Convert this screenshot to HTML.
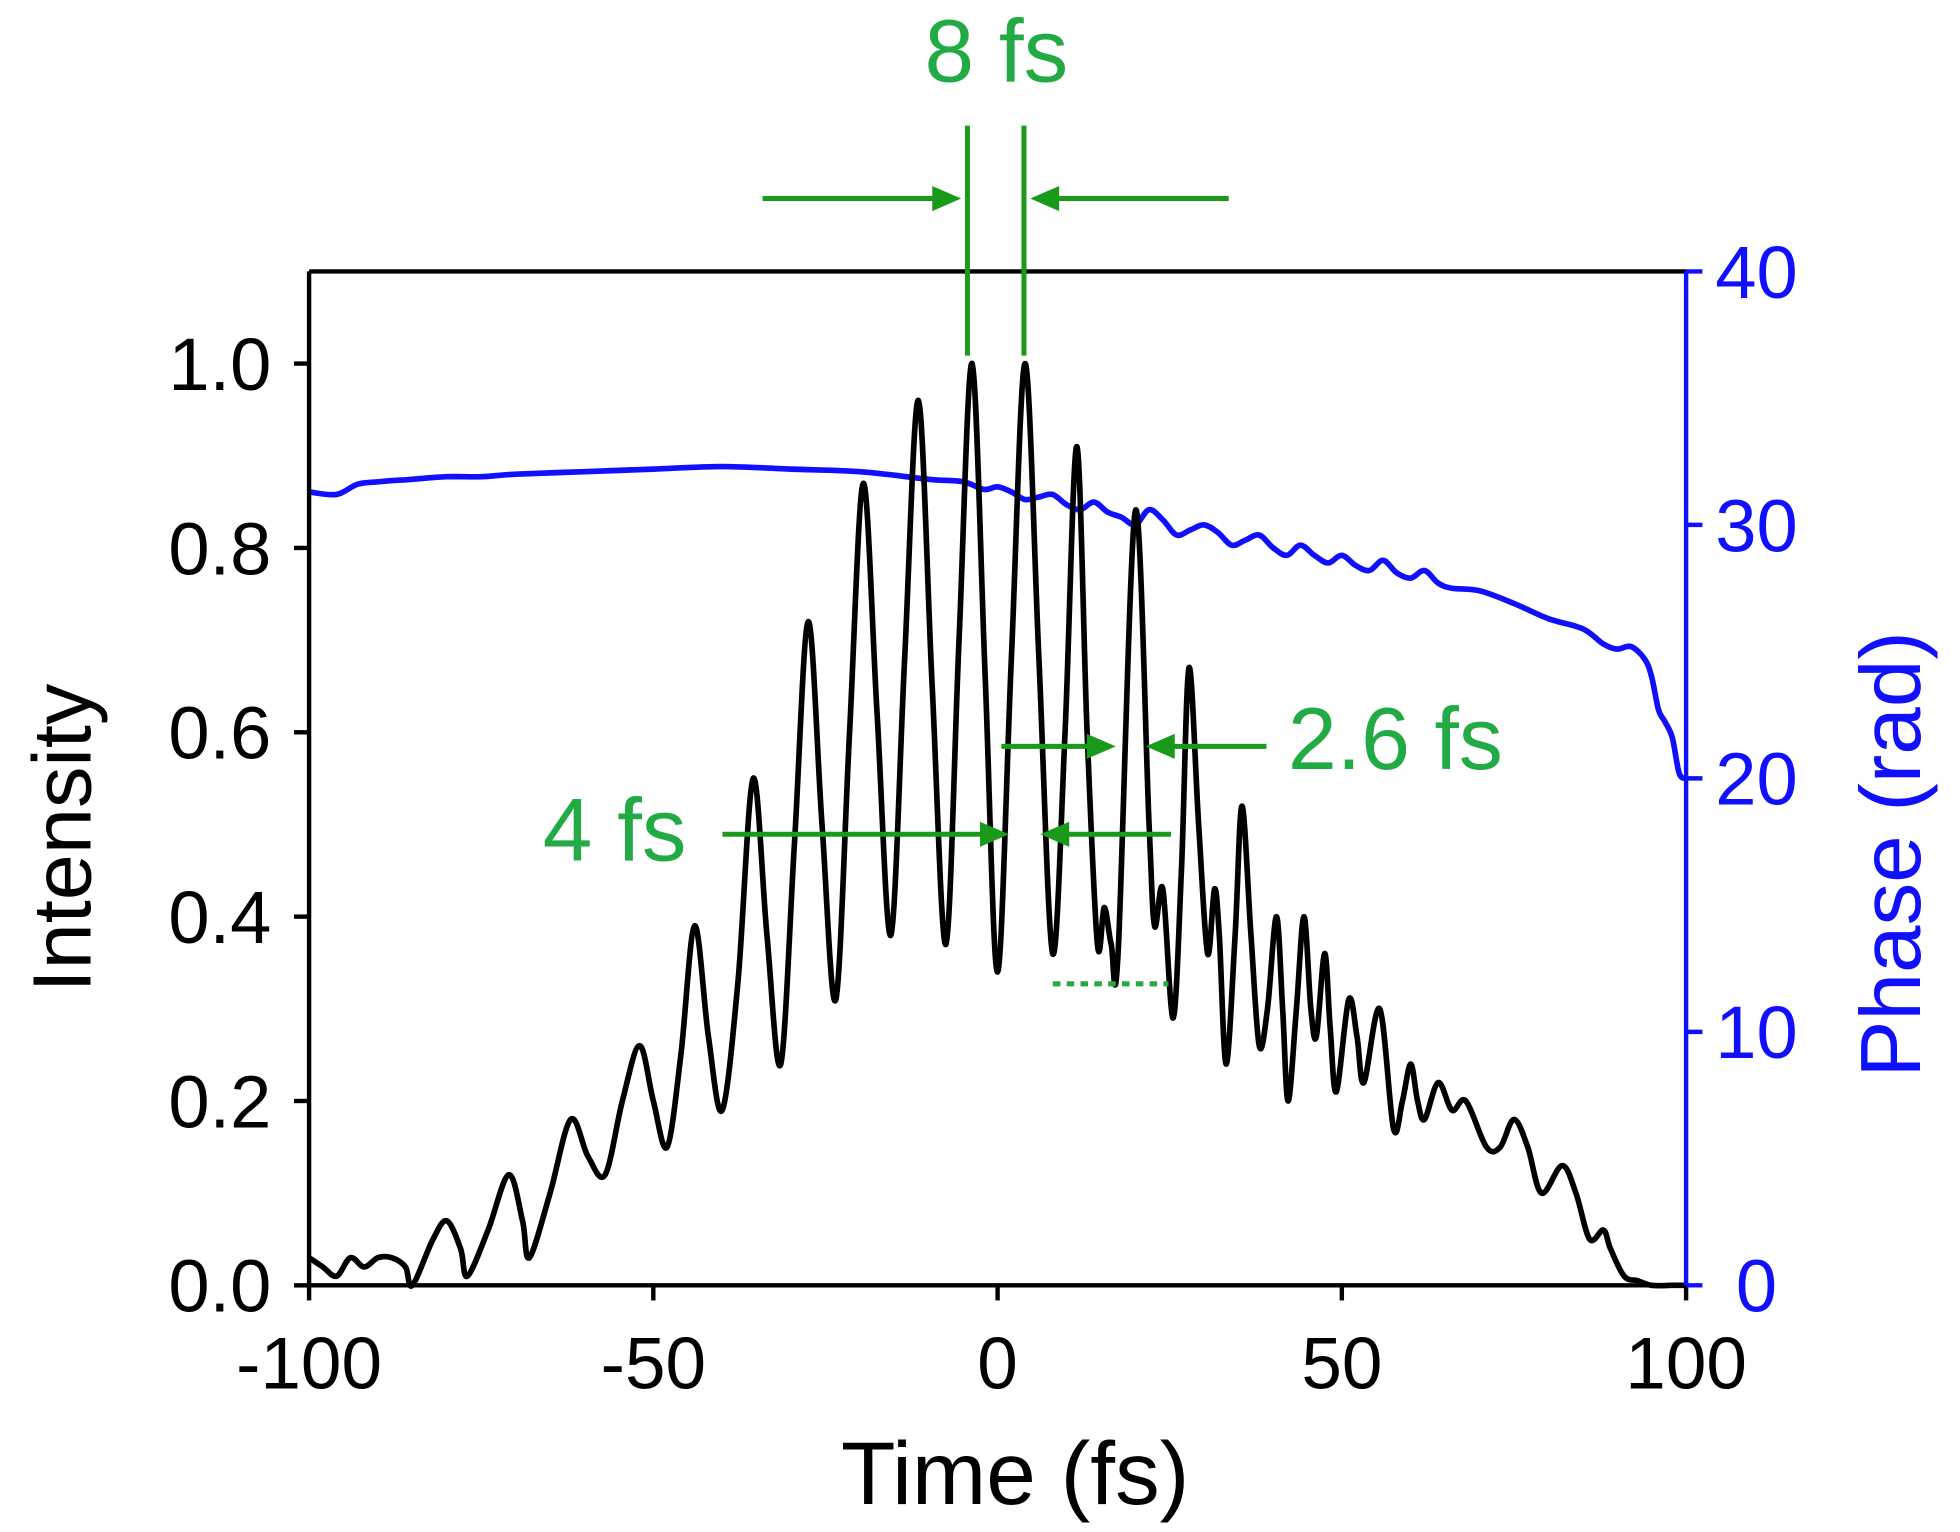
<!DOCTYPE html>
<html><head><meta charset="utf-8"><style>
html,body{margin:0;padding:0;background:#fff}
svg{display:block}
text{font-family:"Liberation Sans",Arial,sans-serif}
</style></head><body>
<svg id="chart" width="1960" height="1532" viewBox="0 0 1560 1219.3" preserveAspectRatio="none" xmlns="http://www.w3.org/2000/svg">
<g id="marks"></g>
<g id="axes"></g>
<g id="annot">
  <text x="793" y="65" font-size="71" fill="#22aa44" text-anchor="middle">8 fs</text>
  <line x1="770" y1="100" x2="770" y2="283" stroke="#1a9a1a" stroke-width="4"/>
  <line x1="815" y1="100" x2="815" y2="283" stroke="#1a9a1a" stroke-width="4"/>
  <line x1="607" y1="158" x2="750" y2="158" stroke="#1a9a1a" stroke-width="4"/>
  <polygon points="765,158 742,148 742,168" fill="#1a9a1a"/>
  <line x1="978" y1="158" x2="835" y2="158" stroke="#1a9a1a" stroke-width="4"/>
  <polygon points="820,158 843,148 843,168" fill="#1a9a1a"/>
  <text x="1025" y="612" font-size="70" fill="#22aa44">2.6 fs</text>
  <line x1="797" y1="594" x2="873" y2="594" stroke="#1a9a1a" stroke-width="4"/>
  <polygon points="888,594 865,584 865,604" fill="#1a9a1a"/>
  <line x1="1008" y1="594" x2="927" y2="594" stroke="#1a9a1a" stroke-width="4"/>
  <polygon points="912,594 935,584 935,604" fill="#1a9a1a"/>
  <text x="432" y="685" font-size="71" fill="#22aa44">4 fs</text>
  <line x1="575" y1="664" x2="788" y2="664" stroke="#1a9a1a" stroke-width="4"/>
  <polygon points="803,664 780,654 780,674" fill="#1a9a1a"/>
  <line x1="932" y1="664" x2="843" y2="664" stroke="#1a9a1a" stroke-width="4"/>
  <polygon points="828,664 851,654 851,674" fill="#1a9a1a"/>
  <line x1="838" y1="783" x2="930" y2="783" stroke="#22aa44" stroke-width="4" stroke-dasharray="6,5"/>
</g>
</svg>
<script>
const xTicks=[-100,-50,0,50,100];
const yTicks=[0,0.2,0.4,0.6,0.8,1.0];
const yTickLabels=["0.0","0.2","0.4","0.6","0.8","1.0"];
const phaseTicks=[0,10,20,30,40];
const intT=[-100,-98,-96,-94,-92,-90,-88,-86,-85,-82,-80,-78,-77,-74,-71,-69,-68,-65,-62,-59.5,-57,-54.5,-52,-50,-48,-46,-44,-42,-40,-37.7,-35.5,-33.5,-31.5,-29.5,-27.5,-25.5,-23.5,-21.5,-19.5,-17.5,-15.5,-13.5,-11.5,-9.5,-7.5,-5.6,-3.7,-1.8,0,2,4,6,8,9.8,11.5,13,14.5,15.5,16.5,17.5,20,22,22.8,24,25.5,26.7,27.8,29.2,30.5,31.5,32.2,33.2,34.5,35.5,36.8,38,39.2,40.5,41.4,42.2,43.4,44.5,45.5,46.3,47.5,48.3,49.2,51,52.2,53.2,55.5,57.5,58.8,60,61,62,64,66,68,71,73,75,77,79,82,84,86,88,89,91,93,95,98,100];
const intV=[0.03,0.02,0.01,0.03,0.02,0.03,0.03,0.02,0.0,0.05,0.07,0.04,0.01,0.06,0.12,0.07,0.03,0.1,0.18,0.14,0.12,0.2,0.26,0.2,0.15,0.25,0.39,0.27,0.19,0.33,0.55,0.38,0.24,0.48,0.72,0.5,0.31,0.6,0.87,0.62,0.38,0.68,0.96,0.65,0.37,0.7,1.0,0.66,0.34,0.68,1.0,0.68,0.36,0.6,0.91,0.6,0.37,0.41,0.37,0.36,0.84,0.5,0.39,0.43,0.29,0.45,0.67,0.5,0.36,0.43,0.38,0.24,0.38,0.52,0.38,0.26,0.3,0.4,0.3,0.2,0.3,0.4,0.3,0.27,0.36,0.28,0.21,0.31,0.27,0.22,0.3,0.17,0.2,0.24,0.2,0.18,0.22,0.19,0.2,0.15,0.15,0.18,0.15,0.1,0.13,0.1,0.05,0.06,0.04,0.01,0.005,0.0,0.0,0.0];
const phT=[-100,-96,-93,-90,-85,-80,-75,-70,-60,-50,-40,-30,-20,-10,-5,-2,0,2,4,6,8,10,12,14,16,18,20,22,24,26,28,30,32,34,36,38,40,42,44,46,48,50,52,54,56,58,60,62,64,66,70,75,80,85,88,90,92,94,95,96,97,98,99,100];
const phV=[31.3,31.2,31.6,31.7,31.8,31.9,31.9,32.0,32.1,32.2,32.3,32.2,32.1,31.8,31.7,31.4,31.5,31.3,31.0,31.1,31.2,30.8,30.6,30.9,30.5,30.3,30.0,30.6,30.2,29.6,29.8,30.0,29.7,29.2,29.4,29.6,29.1,28.8,29.2,28.8,28.5,28.8,28.4,28.2,28.6,28.1,27.9,28.2,27.7,27.5,27.4,26.9,26.3,25.9,25.3,25.1,25.2,24.7,24.0,22.7,22.2,21.6,20.2,20.0];
const L=246,R=1342,T=216,B=1023;
const xs=t=>L+(t+100)/200*(R-L);
const ys=v=>B-v/1.1*(B-T);
const yp=p=>B-p/40*(B-T);
const NS="http://www.w3.org/2000/svg";
function el(tag,attrs,parent,txt){const e=document.createElementNS(NS,tag);for(const k in attrs)e.setAttribute(k,attrs[k]);if(txt!==undefined)e.textContent=txt;parent.appendChild(e);return e;}
function smooth(pts){let d="M"+pts[0][0]+","+pts[0][1];for(let i=0;i<pts.length-1;i++){const p0=pts[Math.max(0,i-1)],p1=pts[i],p2=pts[i+1],p3=pts[Math.min(pts.length-1,i+2)];const c1x=p1[0]+(p2[0]-p0[0])/6,c1y=p1[1]+(p2[1]-p0[1])/6,c2x=p2[0]-(p3[0]-p1[0])/6,c2y=p2[1]-(p3[1]-p1[1])/6;d+=" C"+c1x+","+c1y+" "+c2x+","+c2y+" "+p2[0]+","+p2[1];}return d;}
const marks=document.getElementById('marks'),axes=document.getElementById('axes');
const pp=el('path',{d:smooth(phT.map((t,i)=>[xs(t),yp(phV[i])])),fill:'none',stroke:'#1010ff','stroke-width':4.5},marks);


const ip=el('path',{d:smooth(intT.map((t,i)=>[xs(t),ys(intV[i])])),fill:'none',stroke:'#000','stroke-width':4.5},marks);


el('line',{x1:L,y1:T,x2:R,y2:T,stroke:'#000','stroke-width':3.5},axes);
el('line',{x1:L,y1:T,x2:L,y2:B,stroke:'#000','stroke-width':3.5},axes);
el('line',{x1:L,y1:B,x2:R,y2:B,stroke:'#000','stroke-width':3.5},axes);
el('line',{x1:R,y1:T,x2:R,y2:B,stroke:'#1010ff','stroke-width':3.5},axes);
xTicks.forEach(t=>{el('line',{x1:xs(t),y1:B,x2:xs(t),y2:B+12,stroke:'#000','stroke-width':3.5},axes);
 const tx=el('text',{x:xs(t),y:1105,'font-size':58,'text-anchor':'middle',fill:'#000'},axes,String(t));
 
 });
yTicks.forEach((v,i)=>{el('line',{x1:L-12,y1:ys(v),x2:L,y2:ys(v),stroke:'#000','stroke-width':3.5},axes);
 const tx=el('text',{x:216,y:ys(v)+21,'font-size':59,'text-anchor':'end',fill:'#000'},axes,yTickLabels[i]);
 
 });
phaseTicks.forEach(p=>{el('line',{x1:R,y1:yp(p),x2:R+13,y2:yp(p),stroke:'#1010ff','stroke-width':3.5},axes);
 const tx=el('text',{x:1398,y:yp(p)+21,'font-size':59,'text-anchor':'middle',fill:'#1010ff'},axes,String(p));
 
 });
const xt=el('text',{x:808,y:1197,'font-size':71,'text-anchor':'middle',fill:'#000'},axes,'Time (fs)');


const yt=el('text',{x:0,y:0,'font-size':66,'text-anchor':'middle',fill:'#000',transform:'translate(72,667) rotate(-90)'},axes,'Intensity');


const pt=el('text',{x:0,y:0,'font-size':68,'text-anchor':'middle',fill:'#1010ff',transform:'translate(1528,680) rotate(-90)'},axes,'Phase (rad)');


</script>
</body></html>
